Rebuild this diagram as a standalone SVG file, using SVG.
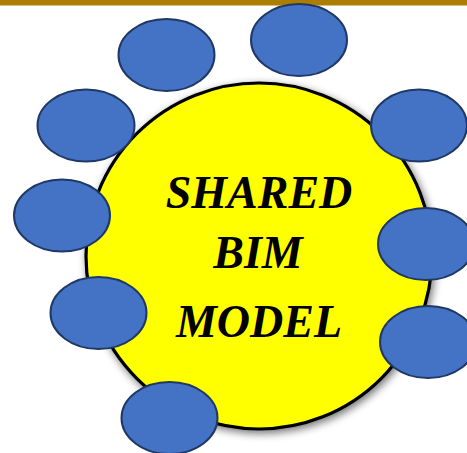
<svg xmlns="http://www.w3.org/2000/svg" width="467" height="453" viewBox="0 0 467 453">
  <defs>
    <filter id="shadow" x="-20%" y="-20%" width="140%" height="140%">
      <feGaussianBlur in="SourceAlpha" stdDeviation="4"/>
      <feOffset dx="2" dy="3" result="b"/>
      <feComponentTransfer><feFuncA type="linear" slope="0.55"/></feComponentTransfer>
      <feMerge><feMergeNode/><feMergeNode in="SourceGraphic"/></feMerge>
    </filter>
  </defs>
  <style>
    .sat { fill: #4472C4; stroke: #1F3864; stroke-width: 2; }
    .hub { fill: #FFFF00; stroke: #000000; stroke-width: 3.2; }
    .lbl { font-family: "Liberation Serif", "Times New Roman", serif; font-weight: bold; font-style: italic; font-size: 46px; fill: #000000; text-anchor: middle; }
  </style>
  <rect x="0" y="0" width="467" height="453" fill="#FFFFFF"/>
  <rect x="0" y="0" width="467" height="5.5" fill="#AC7E00"/>
  <g id="hub">
    <circle class="hub" cx="259" cy="256" r="173" filter="url(#shadow)"/>
    <text class="lbl" x="259" y="208">SHARED</text>
    <text class="lbl" x="258" y="268">BIM</text>
    <text class="lbl" x="259" y="337">MODEL</text>
  </g>
  <g id="connectors"></g>
  <g id="node1"><ellipse class="sat" cx="166.5" cy="55" rx="48" ry="36"/></g>
  <g id="node2"><ellipse class="sat" cx="299" cy="40" rx="48" ry="36"/></g>
  <g id="node3"><ellipse class="sat" cx="86" cy="125.5" rx="48.5" ry="36"/></g>
  <g id="node4"><ellipse class="sat" cx="62" cy="215.5" rx="48" ry="36"/></g>
  <g id="node5"><ellipse class="sat" cx="98.5" cy="313" rx="48" ry="36"/></g>
  <g id="node6"><ellipse class="sat" cx="169.5" cy="418" rx="48" ry="36"/></g>
  <g id="node7"><ellipse class="sat" cx="419" cy="125.5" rx="48" ry="36"/></g>
  <g id="node8"><ellipse class="sat" cx="426" cy="244" rx="48" ry="36"/></g>
  <g id="node9"><ellipse class="sat" cx="428" cy="342" rx="48" ry="36"/></g>
</svg>
